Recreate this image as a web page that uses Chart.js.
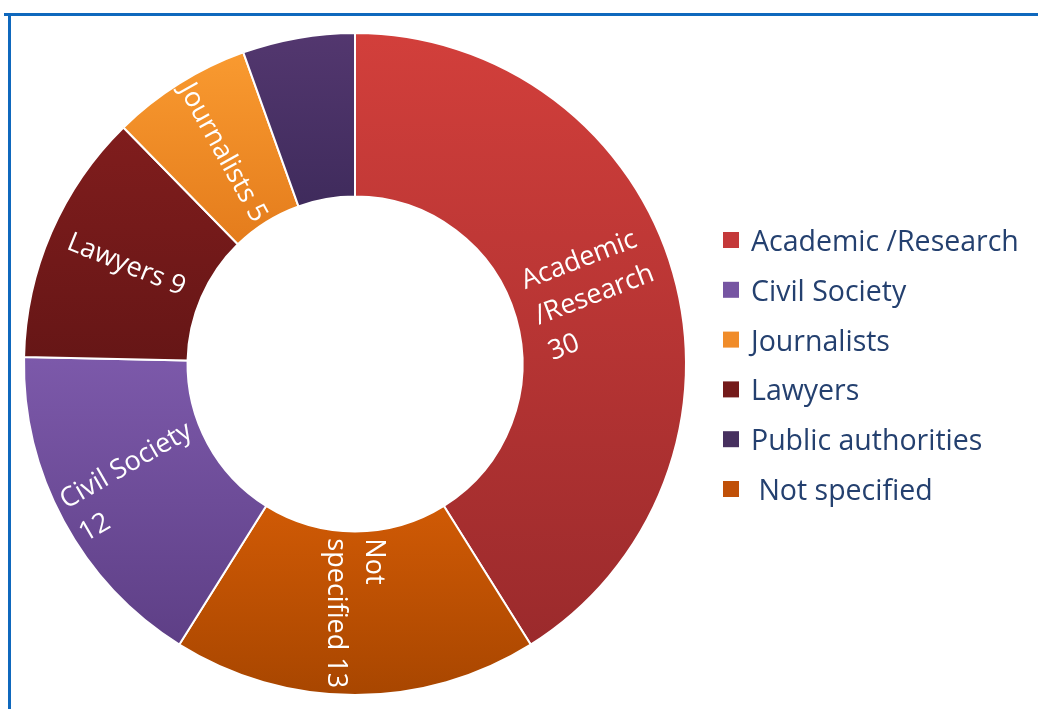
<!DOCTYPE html>
<html><head><meta charset="utf-8">
<script src="https://cdn.jsdelivr.net/npm/chart.js@4"></script>
<style>
html,body{margin:0;padding:0;background:#fff;overflow:hidden}
#wrap{position:relative;width:1038px;height:709px}
#c{position:absolute;left:0;top:0}
.ft{position:absolute;left:4px;top:13px;width:1034px;height:3px;background:#0f68bd}
.fl{position:absolute;left:8px;top:13px;width:3px;height:696px;background:#0f68bd}
</style></head><body>
<div id="wrap"><canvas id="c" width="1038" height="709"></canvas><div class="ft"></div><div class="fl"></div></div>
<script>
// ---- data ----
const categories = ['Academic /Research', 'Not specified', 'Civil Society', 'Lawyers', 'Journalists', 'Public authorities'];
const values = [30, 13, 12, 9, 5, 4];
const sliceLabels = [['Academic', '/Research', '30'], ['Not', 'specified 13'], ['Civil Society', '12'], ['Lawyers 9'], ['Journalists 5'], []];
const legendLabels = ['Academic /Research', 'Civil Society', 'Journalists', 'Lawyers', 'Public authorities', ' Not specified'];

// ---- style ----
const topColors = ['#d23f3b', '#d05a05', '#7c59aa', '#801d1d', '#f99a30', '#53376f'];
const bottomColors = ['#9b2a2c', '#a84600', '#5e3f86', '#661616', '#e47c1c', '#3f2b5c'];
const legendColors = ['#c4393a', '#c05008', '#7655a2', '#741a1a', '#f08c2a', '#47305f'];
const labelRotations = [-21, 90, -30, 22, 61, 0];

const gradientPlugin = {
  id: 'sliceGradients',
  beforeDatasetsDraw(chart) {
    const ctx = chart.ctx;
    const meta = chart.getDatasetMeta(0);
    meta.data.forEach((arc, i) => {
      const p = arc.getProps(['x', 'y', 'startAngle', 'endAngle', 'innerRadius', 'outerRadius'], true);
      let minY = Infinity, maxY = -Infinity;
      const N = 60;
      for (let k = 0; k <= N; k++) {
        const a = p.startAngle + (p.endAngle - p.startAngle) * k / N;
        for (const r of [p.innerRadius, p.outerRadius]) {
          const y = p.y + r * Math.sin(a);
          minY = Math.min(minY, y); maxY = Math.max(maxY, y);
        }
      }
      const g = ctx.createLinearGradient(0, minY, 0, maxY);
      g.addColorStop(0, topColors[i]);
      g.addColorStop(1, bottomColors[i]);
      arc.options.backgroundColor = g;
    });
  }
};

const labelPlugin = {
  id: 'sliceLabels',
  afterDatasetsDraw(chart) {
    const ctx = chart.ctx;
    const meta = chart.getDatasetMeta(0);
    ctx.save();
    ctx.fillStyle = '#ffffff';
    ctx.font = '27px "Open Sans"';
    ctx.textBaseline = 'middle';
    ctx.textAlign = 'left';
    const lh = 38;
    meta.data.forEach((arc, i) => {
      const lines = sliceLabels[i];
      if (!lines.length) return;
      const p = arc.getProps(['x', 'y', 'startAngle', 'endAngle', 'innerRadius', 'outerRadius'], true);
      const a = (p.startAngle + p.endAngle) / 2;
      const r = (p.innerRadius + p.outerRadius) / 2;
      const cx = p.x + r * Math.cos(a), cy = p.y + r * Math.sin(a);
      const w = Math.max(...lines.map(l => ctx.measureText(l).width));
      ctx.save();
      ctx.translate(cx, cy);
      ctx.rotate(labelRotations[i] * Math.PI / 180);
      const h0 = -(lines.length - 1) * lh / 2;
      lines.forEach((l, k) => ctx.fillText(l, -w / 2, h0 + k * lh));
      ctx.restore();
    });
    ctx.restore();
  }
};

const legendPlugin = {
  id: 'sideLegend',
  afterDraw(chart) {
    const ctx = chart.ctx;
    ctx.save();
    ctx.font = '28.5px "Open Sans"';
    ctx.textBaseline = 'alphabetic';
    ctx.textAlign = 'left';
    legendLabels.forEach((lab, k) => {
      const idx = categories.indexOf(lab.trim());
      const base = 251 + k * 49.8;
      ctx.fillStyle = legendColors[idx];
      ctx.fillRect(723, base - 19, 16, 16);
      ctx.fillStyle = '#24406f';
      ctx.fillText(lab, 751, base);
    });
    ctx.restore();
  }
};

new Chart(document.getElementById('c'), {
  type: 'doughnut',
  data: {
    labels: categories,
    datasets: [{
      data: values,
      backgroundColor: legendColors,
      borderColor: '#ffffff',
      borderWidth: 2
    }]
  },
  options: {
    responsive: false,
    animation: false,
    events: [],
    cutout: '50.6%',
    layout: { padding: { left: 22, top: 32, right: 350, bottom: 13 } },
    plugins: { legend: { display: false }, tooltip: { enabled: false } }
  },
  plugins: [gradientPlugin, labelPlugin, legendPlugin]
});
</script>
</body></html>
